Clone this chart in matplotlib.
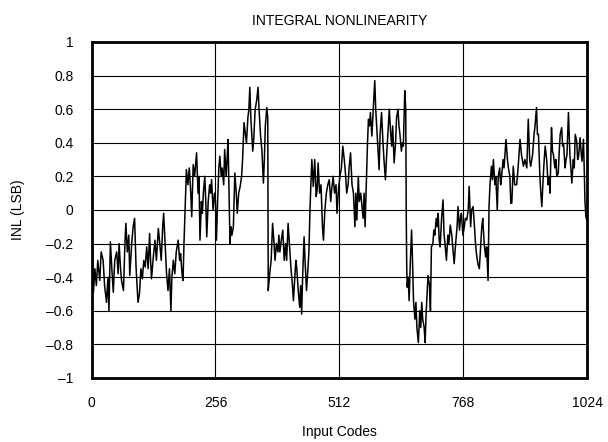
import matplotlib
matplotlib.use("Agg")
import matplotlib.pyplot as plt
import numpy as np

plt.rcParams['font.family'] = ['Liberation Sans', 'DejaVu Sans']

# INL trace (code, LSB)
codes = [
    0, 1, 2, 4, 7, 10, 13, 17, 20, 24, 27, 31, 34, 36, 39, 42, 45, 48, 52, 55,
    57, 60, 62, 66, 69, 71, 74, 77, 79, 83, 86, 89, 92, 94, 96, 99, 102, 105, 108, 111,
    114, 117, 120, 122, 124, 127, 131, 134, 138, 141, 144, 147, 149, 152, 155, 158, 161, 164, 166, 169,
    172, 175, 179, 182, 184, 187, 189, 191, 193, 196, 199, 202, 205, 207, 210, 213, 217, 220, 222, 224,
    227, 229, 231, 234, 236, 238, 241, 244, 246, 248, 251, 254, 256, 258, 261, 263, 265, 268, 270, 273,
    275, 278, 280, 282, 284, 286, 288, 290, 293, 296, 299, 301, 304, 307, 310, 312, 315, 318, 320, 323,
    325, 327, 329, 331, 333, 335, 338, 341, 344, 346, 349, 352, 355, 357, 359, 362, 364, 365, 368, 371,
    374, 377, 379, 382, 385, 387, 389, 392, 395, 398, 401, 403, 406, 409, 412, 415, 417, 420, 422, 424,
    427, 430, 432, 434, 436, 439, 441, 444, 447, 449, 451, 453, 455, 458, 461, 464, 466, 468, 471, 474,
    477, 479, 482, 485, 488, 491, 494, 496, 499, 502, 505, 507, 510, 513, 516, 519, 522, 525, 527, 530,
    532, 535, 538, 541, 544, 546, 548, 551, 553, 556, 558, 561, 563, 565, 568, 570, 572, 574, 576, 579,
    582, 585, 587, 589, 591, 594, 596, 599, 602, 604, 607, 610, 612, 615, 618, 620, 622, 625, 628, 630,
    633, 635, 637, 640, 642, 644, 647, 649, 650, 651, 652, 654, 656, 658, 661, 663, 665, 668, 670, 672,
    675, 678, 680, 682, 684, 687, 689, 691, 693, 695, 698, 700, 702, 705, 707, 709, 712, 714, 716, 718,
    720, 723, 726, 728, 730, 733, 736, 738, 741, 744, 747, 749, 752, 755, 757, 760, 762, 764, 767, 770,
    772, 775, 778, 780, 783, 785, 788, 791, 793, 795, 798, 801, 804, 806, 808, 811, 814, 816, 819, 821,
    823, 826, 828, 830, 833, 835, 838, 840, 843, 845, 847, 850, 852, 854, 856, 859, 861, 864, 866, 868,
    871, 874, 878, 881, 885, 888, 892, 895, 899, 902, 905, 907, 911, 914, 916, 919, 921, 923, 926, 928,
    930, 933, 935, 937, 940, 943, 945, 947, 950, 952, 954, 957, 959, 961, 964, 966, 968, 971, 973, 975,
    978, 980, 982, 985, 988, 990, 992, 995, 997, 999, 1002, 1004, 1006, 1009, 1011, 1013, 1016, 1018, 1019, 1021,
    1023,
]
inl = [
    -0.02, -0.30, -0.20, -0.49, -0.35, -0.45, -0.30, -0.42, -0.25, -0.30, -0.45, -0.55, -0.40, -0.60, -0.19, -0.35, -0.49, -0.30, -0.25, -0.38,
    -0.20, -0.35, -0.42, -0.48, -0.20, -0.08, -0.25, -0.15, -0.39, -0.20, -0.10, -0.05, -0.34, -0.45, -0.55, -0.50, -0.35, -0.41, -0.30, -0.34,
    -0.22, -0.35, -0.14, -0.30, -0.41, -0.30, -0.18, -0.30, -0.11, -0.20, -0.30, -0.10, -0.02, -0.20, -0.38, -0.48, -0.35, -0.60, -0.40, -0.30,
    -0.38, -0.25, -0.18, -0.30, -0.26, -0.38, -0.42, -0.20, -0.02, 0.24, 0.15, 0.25, 0.10, -0.04, 0.27, 0.20, 0.34, 0.10, 0.20, -0.18,
    0.05, -0.02, 0.10, 0.20, 0.05, -0.16, 0.05, 0.15, 0.10, 0.18, 0.00, 0.10, 0.05, -0.18, 0.10, 0.25, 0.32, 0.20, 0.25, 0.15,
    0.36, 0.20, 0.30, 0.42, 0.10, -0.20, -0.10, -0.15, -0.10, 0.22, 0.10, -0.02, 0.10, 0.14, 0.20, 0.30, 0.52, 0.45, 0.40, 0.55,
    0.60, 0.73, 0.55, 0.45, 0.35, 0.42, 0.60, 0.65, 0.73, 0.60, 0.45, 0.35, 0.16, 0.30, 0.50, 0.61, 0.55, -0.48, -0.38, -0.30,
    -0.08, -0.20, -0.30, -0.20, -0.25, -0.15, -0.25, -0.18, -0.12, -0.30, -0.20, -0.30, -0.08, -0.22, -0.35, -0.45, -0.54, -0.40, -0.30, -0.35,
    -0.48, -0.58, -0.45, -0.62, -0.40, -0.16, -0.30, -0.48, -0.35, -0.25, -0.02, 0.15, 0.30, 0.14, 0.30, 0.08, 0.12, 0.28, 0.10, 0.15,
    -0.10, -0.18, 0.00, 0.10, 0.15, 0.18, 0.05, 0.12, 0.20, 0.10, 0.15, -0.02, 0.12, 0.20, 0.25, 0.38, 0.30, 0.20, 0.10, 0.15,
    0.25, 0.34, 0.15, 0.10, -0.10, 0.10, -0.06, 0.20, 0.05, 0.10, 0.04, -0.05, 0.10, -0.10, 0.21, 0.40, 0.54, 0.50, 0.58, 0.44,
    0.60, 0.77, 0.60, 0.50, 0.40, 0.24, 0.45, 0.58, 0.40, 0.30, 0.18, 0.35, 0.45, 0.60, 0.45, 0.38, 0.50, 0.28, 0.40, 0.55,
    0.60, 0.50, 0.45, 0.35, 0.40, 0.38, 0.71, 0.60, -0.02, -0.34, -0.46, -0.40, -0.54, -0.35, -0.12, -0.30, -0.54, -0.65, -0.55, -0.70,
    -0.79, -0.60, -0.70, -0.55, -0.65, -0.70, -0.79, -0.62, -0.51, -0.39, -0.45, -0.60, -0.22, -0.20, -0.12, -0.15, -0.05, -0.10, -0.02, -0.18,
    -0.22, -0.05, 0.06, -0.14, -0.20, -0.30, -0.15, -0.20, -0.09, -0.15, -0.25, -0.32, -0.20, -0.10, 0.02, -0.12, -0.05, -0.02, -0.15, -0.10,
    -0.05, -0.06, 0.00, 0.14, -0.10, 0.00, 0.02, -0.10, -0.20, -0.26, -0.32, -0.35, -0.20, -0.10, -0.05, -0.20, -0.28, -0.22, -0.42, 0.02,
    0.15, 0.26, 0.18, 0.30, 0.15, 0.20, 0.00, 0.20, 0.25, 0.15, 0.20, 0.30, 0.25, 0.34, 0.42, 0.30, 0.25, 0.20, 0.04, 0.04,
    0.26, 0.15, 0.15, 0.25, 0.42, 0.33, 0.26, 0.30, 0.25, 0.54, 0.30, 0.26, 0.33, 0.45, 0.50, 0.61, 0.45, 0.45, 0.20, 0.10,
    0.02, 0.20, 0.30, 0.38, 0.30, 0.15, 0.20, 0.10, 0.49, 0.35, 0.33, 0.25, 0.30, 0.20, 0.22, 0.35, 0.45, 0.49, 0.38, 0.39,
    0.25, 0.30, 0.33, 0.58, 0.33, 0.25, 0.16, 0.30, 0.25, 0.45, 0.41, 0.30, 0.32, 0.43, 0.35, 0.29, 0.42, 0.20, 0.06, -0.04,
    -0.06,
]

x_ticks = [0, 256, 512, 768, 1024]
y_ticks = [1, 0.8, 0.6, 0.4, 0.2, 0, -0.2, -0.4, -0.6, -0.8, -1]
y_tick_labels = ["1", "0.8", "0.6", "0.4", "0.2", "0",
                 "–0.2", "–0.4", "–0.6", "–0.8", "–1"]

fig = plt.figure(figsize=(6.08, 4.42), dpi=100)
ax = fig.add_axes([0.1505, 0.145, 0.8155, 0.76])

ax.plot(codes, inl, color='black', linewidth=1.1)

ax.set_xlim(0, 1024)
ax.set_ylim(-1, 1)
ax.set_xticks(x_ticks)
ax.set_xticklabels([str(t) for t in x_ticks])
ax.set_yticks(y_ticks)
ax.set_yticklabels(y_tick_labels)
ax.tick_params(length=0, labelsize=10, pad=13)
ax.grid(True, color='black', linewidth=0.8)
for s in ax.spines.values():
    s.set_linewidth(2)

ax.set_title("INTEGRAL NONLINEARITY", fontsize=10, pad=12)
ax.set_xlabel("Input Codes", fontsize=10, labelpad=11)
ax.set_ylabel("INL (LSB)", fontsize=10, labelpad=15)

fig.savefig("out.png", dpi=100)
